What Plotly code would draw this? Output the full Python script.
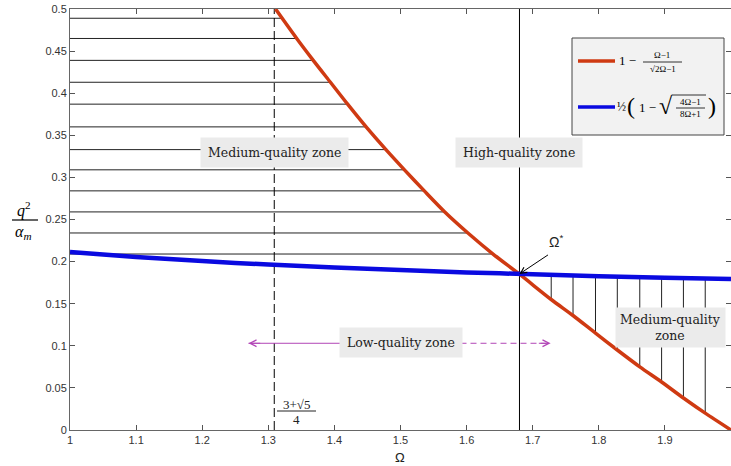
import numpy as np
import plotly.graph_objects as go

# ---------------- data ----------------
red_x = [1.311, 1.343, 1.368, 1.394, 1.420, 1.448, 1.478, 1.506, 1.536, 1.567,
         1.602, 1.640, 1.680, 1.728, 1.761, 1.795, 1.828, 1.862, 1.895, 1.928,
         1.961, 2.000]
red_y = [0.500, 0.465, 0.439, 0.413, 0.387, 0.360, 0.333, 0.309, 0.284, 0.259,
         0.234, 0.209, 0.185, 0.155, 0.136, 0.115, 0.095, 0.075, 0.057, 0.038,
         0.020, 0.000]

blue_x = [1.0, 1.1, 1.2, 1.3, 1.4, 1.5, 1.6, 1.7, 1.8, 1.9, 2.0]
blue_y = [0.2113, 0.2055, 0.2006, 0.1965, 0.1930, 0.1899, 0.1872, 0.1849,
          0.1827, 0.1809, 0.1792]

hatch_levels = [0.489, 0.465, 0.439, 0.413, 0.387, 0.360, 0.333, 0.309,
                0.284, 0.259, 0.234, 0.209]
vhatch_x = [1.728, 1.761, 1.795, 1.828, 1.862, 1.895, 1.928, 1.961]

omega_star = 1.680
omega_low = 1.309          # (3+sqrt5)/4

x_ticks = [1.0, 1.1, 1.2, 1.3, 1.4, 1.5, 1.6, 1.7, 1.8, 1.9, 2.0]
x_tick_text = ["1", "1.1", "1.2", "1.3", "1.4", "1.5", "1.6", "1.7", "1.8", "1.9", ""]
y_ticks = [0, 0.05, 0.1, 0.15, 0.2, 0.25, 0.3, 0.35, 0.4, 0.45, 0.5]
y_tick_text = ["0", "0.05", "0.1", "0.15", "0.2", "0.25", "0.3", "0.35", "0.4", "0.45", "0.5"]

low_arrow_x = [1.27, 1.50, 1.727]
low_arrow_y = 0.103

# ---------------- layout geometry ----------------
W, H = 731, 466
ML, MR, MT, MB = 70, 0, 9, 36
PW, PH = W - ML - MR, H - MT - MB


def px(xp):
    return (xp - ML) / PW


def py(yp):
    return (H - MB - yp) / PH


RED = "#cf3a12"
BLUE = "#0a0ae0"
MAG = "#b245b6"
SERIF = "DejaVu Serif"
TEXTSERIF = "Liberation Serif"

fig = go.Figure()

# horizontal hatch lines (x = 1 to red curve)
rx_rev = np.array(red_x)[::-1]
ry_rev = np.array(red_y)[::-1]
hx, hy = [], []
for lv in hatch_levels:
    xe = float(np.interp(lv, ry_rev, rx_rev))
    hx += [1.0, xe, None]
    hy += [lv, lv, None]
fig.add_trace(go.Scatter(x=hx, y=hy, mode="lines",
                         line=dict(color="#222222", width=1), hoverinfo="skip",
                         showlegend=False))

# vertical hatch lines (red curve to blue curve)
vx, vy = [], []
for xv in vhatch_x:
    yr = float(np.interp(xv, red_x, red_y))
    yb = float(np.interp(xv, blue_x, blue_y))
    vx += [xv, xv, None]
    vy += [yr, yb, None]
fig.add_trace(go.Scatter(x=vx, y=vy, mode="lines",
                         line=dict(color="#222222", width=1), hoverinfo="skip",
                         showlegend=False))

# vertical reference lines
fig.add_trace(go.Scatter(x=[omega_star, omega_star], y=[0, 0.5], mode="lines",
                         line=dict(color="black", width=1), showlegend=False,
                         hoverinfo="skip"))
fig.add_trace(go.Scatter(x=[omega_low, omega_low], y=[0, 0.5], mode="lines",
                         line=dict(color="black", width=1, dash="9px,4px"),
                         showlegend=False, hoverinfo="skip"))

# low-quality arrow (solid left part, dashed right part)
fig.add_trace(go.Scatter(x=low_arrow_x[:2], y=[low_arrow_y] * 2, mode="lines",
                         line=dict(color=MAG, width=1), showlegend=False,
                         hoverinfo="skip"))
fig.add_trace(go.Scatter(x=low_arrow_x[1:], y=[low_arrow_y] * 2, mode="lines",
                         line=dict(color=MAG, width=1, dash="6px,4px"),
                         showlegend=False, hoverinfo="skip"))

# curves
fig.add_trace(go.Scatter(x=red_x, y=red_y, mode="lines",
                         line=dict(color=RED, width=3.5, shape="spline",
                                   smoothing=0.8),
                         showlegend=False))
fig.add_trace(go.Scatter(x=blue_x, y=blue_y, mode="lines",
                         line=dict(color=BLUE, width=4.5, shape="spline",
                                   smoothing=0.8),
                         showlegend=False))

ann = []
shapes = []


def note(xp, yp, text, size, family=TEXTSERIF, color="black", xanchor="center"):
    ann.append(dict(x=px(xp), y=py(yp), xref="paper", yref="paper",
                    xanchor=xanchor, yanchor="middle", text=text,
                    showarrow=False,
                    font=dict(family=family, size=size, color=color)))


def pline(x0, x1, y0, y1, color="black", width=1.0):
    shapes.append(dict(type="line", xref="paper", yref="paper",
                       x0=px(x0), x1=px(x1), y0=py(y0), y1=py(y1),
                       line=dict(color=color, width=width)))


# arrowheads of low-quality arrow
ann.append(dict(x=low_arrow_x[0], y=low_arrow_y, xref="x", yref="y",
                ax=low_arrow_x[0] + 0.02, ay=low_arrow_y, axref="x", ayref="y",
                text="", showarrow=True, arrowhead=5, arrowsize=1.3,
                arrowwidth=1, arrowcolor=MAG))
ann.append(dict(x=low_arrow_x[2], y=low_arrow_y, xref="x", yref="y",
                ax=low_arrow_x[2] - 0.02, ay=low_arrow_y, axref="x", ayref="y",
                text="", showarrow=True, arrowhead=5, arrowsize=1.3,
                arrowwidth=1, arrowcolor=MAG))

# zone labels
box = dict(bgcolor="#ebebeb", borderpad=7, showarrow=False,
           xanchor="center", yanchor="middle",
           font=dict(family=SERIF, size=12.5, color="#222222"))
ann.append(dict(x=omega_low, y=0.329, xref="x", yref="y",
                text="Medium-quality zone", **box))
ann.append(dict(x=omega_star, y=0.329, xref="x", yref="y",
                text="High-quality zone", **box))
ann.append(dict(x=1.50, y=0.1045, xref="x", yref="y",
                text="Low-quality zone", **box))
box2 = dict(box)
box2["borderpad"] = 4
ann.append(dict(x=1.909, y=0.122, xref="x", yref="y",
                text="Medium-quality<br>zone", **box2))

# Omega* label with arrow
ann.append(dict(x=omega_star, y=float(np.interp(omega_star, blue_x, blue_y)),
                xref="x", yref="y", ax=30, ay=-20, text="", showarrow=True,
                arrowhead=5, arrowsize=1.2, arrowwidth=1, arrowcolor="black"))
note(556, 241, "Ω<sup>*</sup>", 14, family="Liberation Sans", color="#222")

# (3+sqrt5)/4 label
note(296, 404, "3+√5", 13, color="#222")
pline(277, 316, 411, 411, color="#222")
note(296, 419, "4", 13, color="#222")

# y-axis label  q^2 / alpha_m
note(24, 209, "<i>q</i><sup>2</sup>", 16)
pline(12, 38, 220, 220, width=1.2)
note(23, 232, "<i>α<sub>m</sub></i>", 16)

# x-axis label
note(400, 457, "Ω", 13, family="Liberation Sans", color="#222")

# ---------------- custom legend box ----------------
shapes.append(dict(type="rect", xref="paper", yref="paper",
                   x0=px(572), x1=px(724), y0=py(38), y1=py(135),
                   fillcolor="#f2f2f2", line=dict(color="#444", width=1)))
pline(578, 615, 61, 61, color=RED, width=3.5)
pline(578, 615, 107, 107, color=BLUE, width=3.5)
# entry 1
note(617, 61, "1 −", 13, xanchor="left")
note(662, 55, "Ω−1", 9)
pline(643, 682, 62, 62, width=0.8)
note(663, 69, "√2Ω−1", 9)
# entry 2
note(621, 107, "½", 12)
note(631, 106, "(", 24)
note(637, 107, "1 −", 13, xanchor="left")
note(666, 106, "√", 24)
pline(672, 706, 95, 95, width=0.8)
note(690, 102, "4Ω−1", 9)
pline(676, 705, 108, 108, width=0.8)
note(690, 114, "8Ω+1", 9)
note(712, 106, ")", 24)

axis_common = dict(showgrid=False, zeroline=False, showline=True, mirror="ticks",
                   ticks="inside", ticklen=5, tickwidth=1, linecolor="#666666",
                   tickcolor="#555555", linewidth=1,
                   tickfont=dict(family="Liberation Sans", size=11, color="#333333"))

fig.update_layout(
    width=W, height=H,
    margin=dict(l=ML, r=MR, t=MT, b=MB),
    paper_bgcolor="white", plot_bgcolor="white",
    showlegend=False,
    xaxis=dict(range=[1, 2], tickvals=x_ticks, ticktext=x_tick_text, **axis_common),
    yaxis=dict(range=[0, 0.5], tickvals=y_ticks, ticktext=y_tick_text, **axis_common),
    annotations=ann, shapes=shapes,
)

fig.write_html("out.html")
